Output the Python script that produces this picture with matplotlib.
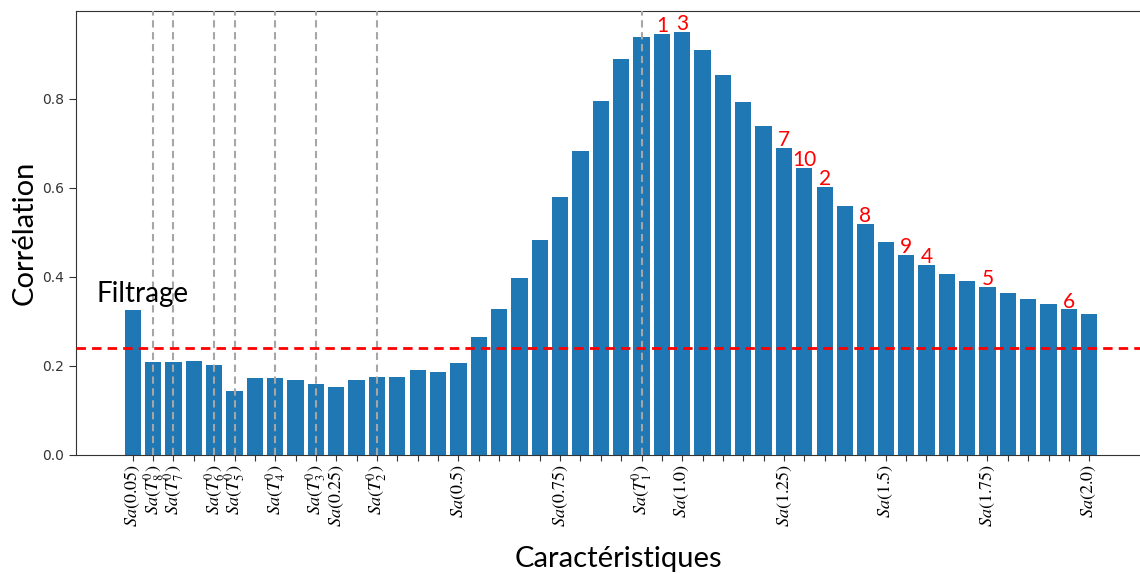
import matplotlib
matplotlib.use("Agg")
import matplotlib.pyplot as plt
import numpy as np

plt.rcParams['mathtext.fontset'] = 'stix'

# --- data ---
features = ["Sa(0.05)", "Sa(T8)", "Sa(T7)", "Sa(0.1)", "Sa(T6)", "Sa(T5)", "Sa(0.15)", "Sa(T4)",
            "Sa(0.2)", "Sa(T3)", "Sa(0.25)", "Sa(0.3)", "Sa(T2)", "Sa(0.35)", "Sa(0.4)", "Sa(0.45)",
            "Sa(0.5)", "Sa(0.55)", "Sa(0.6)", "Sa(0.65)", "Sa(0.7)", "Sa(0.75)", "Sa(0.8)", "Sa(0.85)",
            "Sa(0.9)", "Sa(T1)", "Sa(0.95)", "Sa(1.0)", "Sa(1.05)", "Sa(1.1)", "Sa(1.15)", "Sa(1.2)",
            "Sa(1.25)", "Sa(1.3)", "Sa(1.35)", "Sa(1.4)", "Sa(1.45)", "Sa(1.5)", "Sa(1.55)", "Sa(1.6)",
            "Sa(1.65)", "Sa(1.7)", "Sa(1.75)", "Sa(1.8)", "Sa(1.85)", "Sa(1.9)", "Sa(1.95)", "Sa(2.0)"]
correlation = [0.325, 0.208, 0.208, 0.211, 0.201, 0.144, 0.173, 0.173,
               0.169, 0.160, 0.152, 0.169, 0.176, 0.176, 0.190, 0.186,
               0.206, 0.264, 0.327, 0.398, 0.482, 0.578, 0.683, 0.795,
               0.888, 0.937, 0.945, 0.949, 0.908, 0.852, 0.792, 0.738,
               0.689, 0.644, 0.601, 0.559, 0.518, 0.479, 0.449, 0.426,
               0.407, 0.390, 0.377, 0.364, 0.350, 0.338, 0.327, 0.317]
tick_labels = {"Sa(0.05)": r"$Sa(0.05)$", "Sa(T8)": r"$Sa(T_8^0)$", "Sa(T7)": r"$Sa(T_7^0)$",
               "Sa(T6)": r"$Sa(T_6^0)$", "Sa(T5)": r"$Sa(T_5^0)$", "Sa(T4)": r"$Sa(T_4^0)$",
               "Sa(T3)": r"$Sa(T_3^0)$", "Sa(0.25)": r"$Sa(0.25)$", "Sa(T2)": r"$Sa(T_2^0)$",
               "Sa(0.5)": r"$Sa(0.5)$", "Sa(0.75)": r"$Sa(0.75)$", "Sa(T1)": r"$Sa(T_1^0)$",
               "Sa(1.0)": r"$Sa(1.0)$", "Sa(1.25)": r"$Sa(1.25)$", "Sa(1.5)": r"$Sa(1.5)$",
               "Sa(1.75)": r"$Sa(1.75)$", "Sa(2.0)": r"$Sa(2.0)$"}
period_features = ["Sa(T8)", "Sa(T7)", "Sa(T6)", "Sa(T5)", "Sa(T4)", "Sa(T3)", "Sa(T2)", "Sa(T1)"]
rank_features = ["Sa(0.95)", "Sa(1.0)", "Sa(1.25)", "Sa(1.3)", "Sa(1.35)", "Sa(1.45)",
                 "Sa(1.55)", "Sa(1.6)", "Sa(1.75)", "Sa(1.95)"]
rank_labels = ["1", "3", "7", "10", "2", "8", "9", "4", "5", "6"]
threshold = 0.24

# --- plot ---
W, H = 1140, 574
fig = plt.figure(figsize=(W / 100, H / 100), dpi=100)
ax = fig.add_axes([76 / W, (H - 455) / H, 1070 / W, 444 / H])

x = np.arange(len(features))
ax.bar(x, correlation, width=0.8, color='#1f77b4', zorder=2)
ax.set_xlim(-0.4 - 0.05 * 47.8, len(features) - 1 + 0.4 + 0.05 * 47.8)
ax.set_ylim(0, max(correlation) * 1.05)

for f in period_features:
    ax.axvline(features.index(f), color='#a6a6a6', linestyle=(0, (3.5, 2.2)), lw=1.5, zorder=3)

ax.axhline(threshold, color='#ff0000', linestyle=(0, (3.4, 2.2)), lw=2.0, zorder=4)

for s in ax.spines.values():
    s.set_color('#333333')

ax.set_xticks(x)
ax.set_xticklabels([tick_labels.get(f, "") for f in features], rotation=90, fontsize=13)
ax.tick_params(axis='x', length=4, pad=3, colors='#333333', labelcolor='black')
ax.tick_params(axis='y', labelsize=10, length=5, colors='#333333', labelcolor='#333333')
ax.set_yticks([0.0, 0.2, 0.4, 0.6, 0.8])

calib = ['Lato', 'DejaVu Sans']
for f, lab in zip(rank_features, rank_labels):
    i = features.index(f)
    ax.text(i, correlation[i] + 0.004, lab, color='red', ha='center', va='baseline',
            fontsize=15, family=calib, zorder=5)

ax.text(-1.78, 0.344, "Filtrage", fontsize=20, family=calib, va='baseline', ha='left', zorder=5)

fig.text(25 / W, 1 - 233 / H, "Corrélation", rotation=90, fontsize=21, family=calib,
         ha='center', va='center')
fig.text(618 / W, 1 - 559 / H, "Caractéristiques", fontsize=21, family=calib,
         ha='center', va='center')

fig.savefig("out.png", dpi=100)
